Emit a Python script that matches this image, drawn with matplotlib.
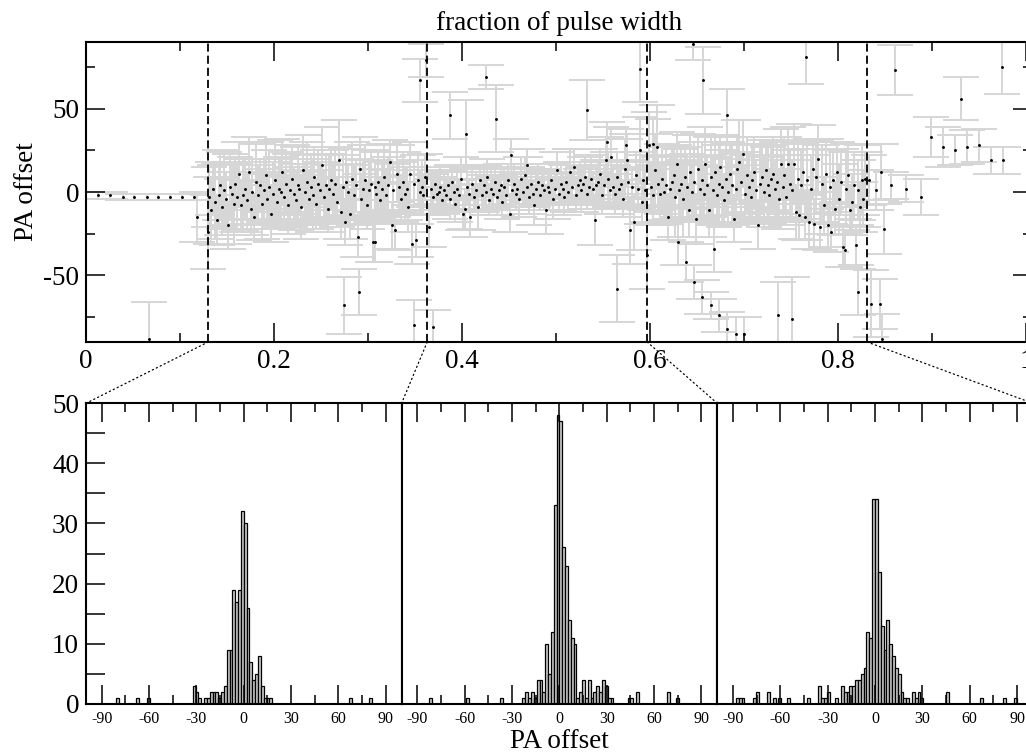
import numpy as np
import matplotlib
matplotlib.use("Agg")
import matplotlib.pyplot as plt
from matplotlib import ticker
from matplotlib.patches import ConnectionPatch

plt.rcParams['font.family'] = ['Liberation Serif', 'DejaVu Serif']
plt.rcParams['axes.unicode_minus'] = False

# ---- top panel: PA offset vs pulse phase ----
# leading, well-determined points
lead_x = [0.0128, 0.0255, 0.039, 0.051, 0.0645, 0.077, 0.0895, 0.102, 0.115]
lead_y = [-2, -2, -3, -3, -3, -3, -3, -3, -3]
lead_err = [2, 2, 2, 2, 2, 2, 2, 2, 2]

phase_step = 0.002

# region A: 0.131 .. 0.361
startA = 0.131
yA = [-3, -11, 2, -6, -17, -2, 4, -9, 1, -4,
      -20, 3, -1, -7, 5, -3, 11, -8, -2, 2,
      -5, 12, -10, 0, -15, 6, -2, 4, -7, 1,
      10, -4, 3, -13, -1, 7, -6, 2, 0, 12,
      -3, 5, -8, 1, 8, -1, -5, 4, 2, -9,
      13, 0, 6, -4, 3, -2, 9, -7, 5, 1,
      16, -3, 4, -10, 2, 7, -1, 5, -6, 19,
      -12, 3, -18, 6, 0, -13, 8, -2, 4, -27,
      14, -4, 2, 7, -8, 1, 5, -30, 3, -1,
      6, -5, 2, 9, -2, 4, 18, -20, 1, -23,
      11, 3, -4, 6, -1, 2, -9, 11, -31, 5,
      -29, 7, 0, 3, -2, 9]
errA = [18, 20, 16, 22, 15, 19, 21, 17, 23, 16,
        14, 20, 18, 24, 16, 21, 19, 15, 22, 18,
        17, 21, 16, 20, 14, 23, 18, 16, 21, 19,
        20, 15, 22, 17, 19, 24, 16, 18, 21, 20,
        15, 19, 17, 22, 20, 16, 18, 23, 15, 19,
        21, 17, 24, 16, 19, 22, 18, 15, 20, 17,
        23, 16, 19, 14, 21, 18, 17, 22, 15, 24,
        16, 19, 14, 20, 17, 15, 22, 18, 16, 12,
        19, 15, 17, 21, 14, 18, 20, 12, 16, 15,
        18, 14, 16, 20, 15, 17, 13, 14, 16, 12,
        17, 15, 14, 18, 16, 13, 15, 19, 12, 14,
        10, 15, 13, 16, 12, 14]

# region B: 0.365 .. 0.595
startB = 0.365
yB = [-21, 2, -3, 5, -1, 0, 3, -5, 1, -2,
      4, -4, 6, 0, -7, 2, -2, 8, -13, -10,
      3, -1, -15, 5, -3, 1, -9, 7, -2, 4,
      0, 9, -5, 2, -1, 6, -3, 1, 4, -6,
      3, -2, 7, -13, 1, 5, -1, 2, -4, 8,
      0, 10, 3, -3, 5, -1, -8, 2, 6, -2,
      4, 1, -11, 3, 0, 7, -4, 2, 13, -1,
      5, 2, -3, 6, 0, 12, 3, 15, -2, 4,
      7, 1, 5, 9, -1, 3, 8, 2, -17, 4,
      6, 11, -2, 4, 19, 8, 1, 21, 3, -1,
      9, 2, 5, -4, 14, 19, 6, -23, 3, -18,
      10, 2, 25, -6, 7, 1]
errB = [12, 9, 11, 8, 10, 9, 12, 8, 11, 10,
        9, 12, 10, 8, 11, 10, 9, 13, 10, 12,
        11, 9, 12, 10, 8, 11, 14, 9, 10, 12,
        10, 11, 9, 12, 10, 8, 11, 9, 13, 10,
        12, 9, 10, 11, 8, 12, 10, 9, 11, 13,
        9, 11, 12, 10, 9, 8, 12, 10, 11, 9,
        10, 12, 14, 9, 11, 10, 12, 9, 11, 10,
        13, 9, 11, 10, 12, 14, 9, 11, 10, 12,
        11, 13, 10, 12, 9, 11, 14, 10, 15, 12,
        13, 15, 11, 12, 14, 16, 10, 18, 13, 12,
        15, 12, 14, 11, 18, 16, 13, 20, 12, 17,
        14, 12, 20, 13, 15, 12]

# region C: 0.599 .. 0.829
startC = 0.599
yC = [28, 3, -2, 13, 27, 5, -1, 8, 0, 4,
      -15, 2, 6, 10, -3, 17, 1, 5, -4, 9,
      3, -11, 12, 0, 6, -16, 14, 2, 7, -1,
      17, 4, -11, 9, 1, 12, -2, 5, 15, 3,
      -5, 8, 0, 11, 4, -16, 2, 14, 18, 6,
      23, -1, 10, 3, -3, 7, 12, 1, -20, 5,
      9, 0, 13, 4, -2, 8, 11, 2, 6, -4,
      17, 3, 10, -3, 17, 5, 1, 17, -12, 8,
      -14, 4, 12, -15, 7, -18, 2, 14, -19, 9,
      20, -21, 5, -8, 11, -20, 3, -24, 7, -10,
      12, -4, 6, -33, -35, 2, 10, -11, -6, 4,
      -32, 1, -9, 7, -4, 8]
errC = [20, 15, 18, 22, 25, 16, 19, 21, 17, 23,
        14, 20, 22, 18, 24, 19, 16, 21, 23, 18,
        20, 16, 22, 18, 24, 15, 21, 19, 23, 17,
        22, 18, 16, 24, 20, 21, 17, 23, 19, 22,
        16, 22, 20, 18, 24, 14, 21, 19, 25, 18,
        20, 17, 23, 19, 15, 22, 21, 18, 14, 24,
        19, 21, 18, 23, 16, 20, 22, 17, 24, 18,
        21, 19, 23, 17, 22, 20, 18, 24, 16, 21,
        15, 22, 19, 14, 23, 16, 20, 18, 15, 22,
        20, 14, 23, 17, 21, 13, 22, 12, 19, 16,
        18, 21, 20, 12, 10, 22, 19, 15, 17, 20,
        12, 18, 15, 21, 17, 16]

# scattered points and outliers
out_x = [0.067, 0.118, 0.130, 0.2745, 0.2908, 0.3074, 0.349, 0.3553, 0.3617, 0.3695,
         0.387, 0.404, 0.426, 0.4358, 0.4518, 0.469, 0.5326, 0.554, 0.5653, 0.5745,
         0.5894, 0.5972, 0.6035, 0.630, 0.638, 0.646, 0.656, 0.6468, 0.6557, 0.6649,
         0.6734, 0.6823, 0.6911, 0.7003, 0.6816, 0.668, 0.7358, 0.7507, 0.766, 0.8216,
         0.8347, 0.8333, 0.8404, 0.8447, 0.847, 0.8457, 0.849, 0.856, 0.8723, 0.8883,
         0.8606, 0.8986, 0.9113, 0.9245, 0.9369, 0.9497, 0.9628, 0.9752, 0.9305, 0.9745]
out_y = [-88, -15, -24, -68, -60, -30, -80, 67, 79, -81,
         46, 35, 69, 44, 22, 16, 49, 30, -58, 28,
         74, -38, 29, -30, -42, 89, 67, -54, -63, -68,
         -74, -82, -85, -85, 46, -34, -74, -76, 81, -60,
         -67, 7, 1, -67, -88, 12, -22, 4, 2, -3,
         73, 33, 27, 25, 27, 28, 19, 19, 56, 75]
out_err = [22, 15, 22, 17, 14, 12, 15, 13, 10, 10,
           14, 20, 7, 20, 10, 10, 18, 12, 20, 10,
           20, 20, 15, 14, 12, 10, 20, 10, 10, 8,
           10, 10, 10, 10, 16, 14, 20, 25, 16, 14,
           20, 15, 12, 15, 15, 17, 15, 8, 8, 11,
           15, 12, 12, 9, 10, 10, 8, 8, 13, 16]

boundaries = [0.13, 0.363, 0.597, 0.831]

# ---- histograms (1.8 deg bins): bin left edge and count ----
h1_left = [-81.0, -68.4, -61.2, -32.4, -30.6, -28.8, -25.2, -23.4, -21.6, -19.8,
           -18.0, -16.2, -14.4, -12.6, -10.8, -9.0, -7.2, -5.4, -3.6, -1.8,
           0.0, 1.8, 3.6, 5.4, 7.2, 9.0, 10.8, 12.6, 14.4, 16.2, 66.6, 79.2]
h1_count = [1, 1, 1, 3, 2, 1, 1, 1, 2, 2,
            2, 1, 2, 3, 9, 9, 19, 17, 19, 32,
            30, 16, 7, 4, 5, 8, 3, 1, 1, 1, 1, 1]

h2_left = [-82.8, -59.4, -37.8, -23.4, -21.6, -19.8, -18.0, -16.2, -14.4, -12.6,
           -10.8, -9.0, -7.2, -5.4, -3.6, -1.8,
           0.0, 1.8, 3.6, 5.4, 7.2, 9.0, 10.8, 12.6, 14.4, 16.2,
           18.0, 19.8, 21.6, 23.4, 25.2, 27.0, 28.8, 30.6, 32.4, 43.2,
           45.0, 48.6, 68.4, 73.8]
h2_count = [1, 1, 1, 1, 2, 1, 2, 1, 4, 4,
            2, 10, 5, 12, 33, 48,
            47, 26, 23, 14, 11, 10, 1, 2, 4, 1,
            4, 1, 2, 3, 2, 4, 3, 1, 1, 1,
            1, 2, 2, 1]

h3_left = [-88.2, -86.4, -84.6, -77.4, -75.6, -68.4, -64.8, -61.2, -55.8, -43.2,
           -36.0, -34.2, -32.4, -30.6, -25.2, -21.6, -19.8, -18.0, -16.2, -14.4,
           -12.6, -10.8, -9.0, -7.2, -5.4, -3.6, -1.8,
           0.0, 1.8, 3.6, 5.4, 7.2, 9.0, 10.8, 12.6, 14.4, 16.2,
           18.0, 19.8, 23.4, 25.2, 27.0, 28.8, 45.0, 66.6, 81.0, 88.2]
h3_count = [1, 1, 1, 1, 2, 2, 1, 1, 1, 1,
            3, 1, 1, 2, 1, 3, 2, 2, 3, 3,
            4, 4, 5, 6, 12, 11, 34,
            34, 22, 13, 9, 14, 10, 8, 6, 5, 2,
            1, 1, 2, 1, 2, 1, 2, 1, 1, 1]

hist_ticks = [-90, -60, -30, 0, 30, 60, 90]

# ---- figure ----
W, H = 1026, 755
FS = 19.5
fig = plt.figure(figsize=(W / 100, H / 100), dpi=100)

def frac(x0, y0, x1, y1):
    return [x0 / W, 1 - y1 / H, (x1 - x0) / W, (y1 - y0) / H]

ax = fig.add_axes(frac(86, 42, 1032, 342))

ecol = '#d6d6d6'
def draw(x, y, e):
    ax.errorbar(x, y, yerr=e, fmt='none', ecolor=ecol, elinewidth=1.4,
                capsize=13, capthick=1.4, zorder=1)
    ax.plot(x, y, 'o', color='k', ms=2.1, mew=0, zorder=3)

draw(lead_x, lead_y, lead_err)
for start, ys, es in [(startA, yA, errA), (startB, yB, errB), (startC, yC, errC)]:
    xs = start + phase_step * np.arange(len(ys))
    draw(xs, ys, es)
draw(out_x, out_y, out_err)

for b in boundaries:
    ax.axvline(b, color='k', lw=1.3, ls=(0, (4.5, 2.2)), zorder=2)

ax.set_xlim(0, 946 / 940)
ax.set_ylim(-90, 90)
ax.set_xticks([0, 0.2, 0.4, 0.6, 0.8, 1.0])
ax.set_xticks([0.1, 0.3, 0.5, 0.7, 0.9], minor=True)
ax.xaxis.set_major_formatter(ticker.FormatStrFormatter('%g'))
ax.set_yticks([-50, 0, 50])
ax.set_yticks([-75, -25, 25, 75], minor=True)
ax.tick_params(which='both', direction='in', top=True, right=True,
               labelsize=FS, width=1.1)
ax.tick_params(which='major', length=13.5, pad=5)
ax.tick_params(which='minor', length=6.5)
for s in ax.spines.values():
    s.set_linewidth(1.5)
ax.set_ylabel('PA offset', fontsize=FS, labelpad=3)
ax.set_title('fraction of pulse width', fontsize=FS, pad=9)

hist_axes = []
lefts = [86, 401.6, 717.2]
for i, (hl, hc) in enumerate([(h1_left, h1_count), (h2_left, h2_count), (h3_left, h3_count)]):
    x0 = lefts[i]
    hx = fig.add_axes(frac(x0, 403.3, x0 + 315.6, 703.7))
    hx.bar(hl, hc, width=1.8, align='edge', color='#c8c8c8',
           edgecolor='k', linewidth=0.9)
    hx.set_xlim(-100, 100)
    hx.set_ylim(0, 50)
    hx.set_xticks(hist_ticks)
    hx.set_xticks([-75, -45, -15, 15, 45, 75], minor=True)
    hx.tick_params(axis='x', which='both', direction='in', top=True,
                   labelsize=11.5, width=1.1, pad=5)
    hx.tick_params(axis='x', which='major', length=13.5)
    hx.tick_params(axis='x', which='minor', length=6.5)
    if i == 0:
        hx.set_yticks([0, 10, 20, 30, 40, 50])
        hx.set_yticks([5, 15, 25, 35, 45], minor=True)
        hx.tick_params(axis='y', which='both', direction='in', length=13.5,
                       width=1.1, labelsize=FS, pad=5)
    else:
        hx.set_yticks([])
    for s in hx.spines.values():
        s.set_linewidth(1.5)
    hist_axes.append(hx)

fig.text(559 / W, 1 - 742 / H, 'PA offset', fontsize=FS, ha='center', va='center')

# dotted connectors from phase boundaries to histogram panels
targets = [(hist_axes[0], (0, 1)), (hist_axes[0], (1, 1)),
           (hist_axes[1], (1, 1)), (hist_axes[2], (1, 1))]
for b, (hx, corner) in zip(boundaries, targets):
    con = ConnectionPatch(xyA=(b, -90), coordsA=ax.transData,
                          xyB=corner, coordsB=hx.transAxes,
                          color='k', lw=0.9, ls=(0, (1, 2.5)))
    fig.add_artist(con)

fig.savefig('out.png', dpi=100)
